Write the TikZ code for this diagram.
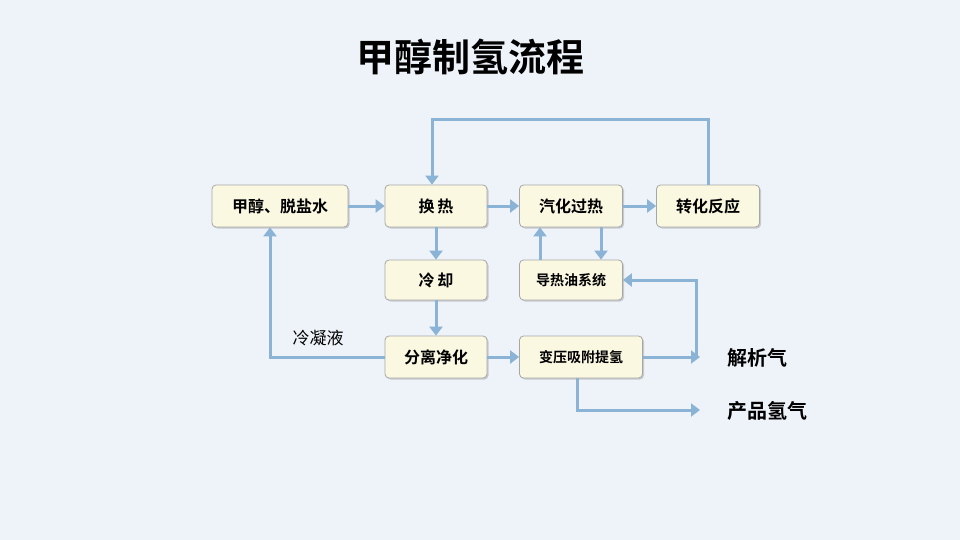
\documentclass[tikz,border=0pt]{standalone}
\usepackage{fontspec}
\newfontfamily\cjk{Noto Sans CJK SC}
\newfontfamily\cjkb{Noto Sans CJK SC Bold}
\usetikzlibrary{arrows.meta,shadows}
\definecolor{bg}{HTML}{EEF3F9}
\definecolor{boxc}{HTML}{FBF8E2}
\definecolor{arr}{HTML}{8AB3D6}
\tikzset{
 box/.style={draw=gray!70,fill=boxc,rounded corners=4pt,line width=0.8pt,minimum height=42pt,font=\cjkb\fontsize{16}{18}\selectfont,drop shadow={shadow xshift=1.5pt,shadow yshift=-1.5pt,opacity=0.35}},
 flow/.style={draw=arr,line width=3pt,-{Triangle[length=9pt,width=13pt]}},
 lbl/.style={font=\cjkb\fontsize{20}{22}\selectfont}
}
\begin{document}
\begin{tikzpicture}[x=1pt,y=-1pt]
\fill[bg] (0,0) rectangle (960,540);
\useasboundingbox (0,0) rectangle (960,540);
\node[font=\cjkb\fontsize{38}{40}\selectfont] (title) at (470,57) {甲醇制氢流程};
\node[box,minimum width=136pt] (a) at (280,206) {甲醇、脱盐水};
\node[box,minimum width=102pt] (b) at (436,206) {换\,热};
\node[box,minimum width=103pt] (c) at (571,206) {汽化过热};
\node[box,minimum width=103pt] (d) at (708,206) {转化反应};
\node[box,minimum width=102pt,minimum height=40pt] (e) at (436,280) {冷\,却};
\node[box,minimum width=103pt,minimum height=40pt,font=\cjkb\fontsize{14}{16}\selectfont] (f) at (571,280) {导热油系统};
\node[box,minimum width=102pt] (g) at (436,357) {分离净化};
\node[box,minimum width=123pt,font=\cjkb\fontsize{14}{16}\selectfont] (h) at (581,357) {变压吸附提氢};
\node[lbl,anchor=west] (jx) at (724,358) {解析气};
\node[lbl,anchor=west] (cp) at (724,411) {产品氢气};
\node[font=\cjk\fontsize{17}{19}\selectfont] (lny) at (318,338) {冷凝液};
\coordinate (j1) at (700,357);
\coordinate (p1) at (700,410);
\draw[flow] (a) -- (b);
\draw[flow] (b) -- (c);
\draw[flow] (c) -- (d);
\draw[flow] (b) -- (e);
\draw[flow] (e) -- (g);
\draw[flow] (g) -- (h);
\draw[flow] (f.north -| 540,0) -- (c.south -| 540,0);
\draw[flow] (c.south -| 601,0) -- (f.north -| 601,0);
\draw[flow] (d.north) |- (432,120) -- (b.north -| 432,0);
\draw[flow] (g.west) -| (a.south -| 270,0);
\draw[flow] (h.east) -- (j1);
\draw[flow] (696,357) |- (f.east);
\draw[flow] (h.south -| 577,0) |- (p1);
\end{tikzpicture}
\end{document}
